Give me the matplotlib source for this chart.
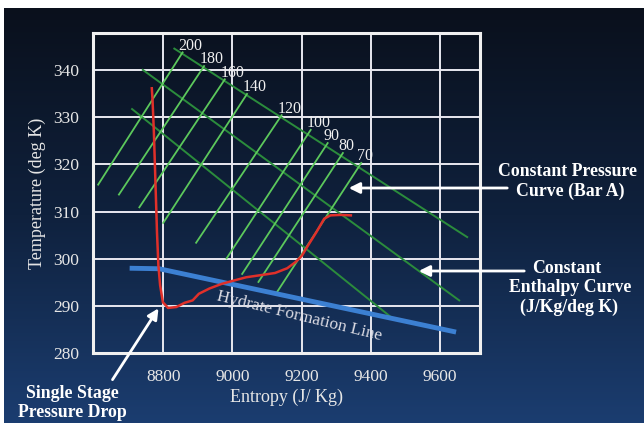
import numpy as np
import matplotlib.pyplot as plt
from matplotlib.colors import LinearSegmentedColormap

# constant pressure lines (bar A): start/end points in entropy, temperature
pressure_labels = ["200", "180", "160", "140", "120", "100", "90", "80", "70"]
pressure_x0 = [8612, 8672, 8731, 8800, 8895, 8983, 9028, 9075, 9129]
pressure_y0 = [315.7, 313.6, 310.9, 307.6, 303.4, 300.1, 296.8, 295.1, 293.0]
pressure_x1 = [8856, 8918, 8978, 9042, 9142, 9226, 9275, 9319, 9372]
pressure_y1 = [343.7, 340.8, 338.0, 334.9, 330.4, 327.3, 324.5, 322.4, 320.3]

# constant enthalpy lines
enthalpy_x0 = [8832, 8741, 8710]
enthalpy_y0 = [344.5, 340.0, 331.7]
enthalpy_x1 = [9678, 9655, 9464]
enthalpy_y1 = [304.6, 291.2, 287.3]

# single stage pressure drop path
drop_x = [8767, 8769, 8773, 8776, 8779, 8782, 8786, 8791, 8799, 8814, 8838,
          8862, 8885, 8903, 8933, 8969, 9004, 9040, 9087, 9123, 9158, 9182,
          9200, 9218, 9242, 9265, 9283, 9313, 9342]
drop_y = [336.1, 333.8, 326.8, 319.7, 312.7, 305.6, 298.6, 294.4, 290.8, 289.6,
          289.8, 290.7, 291.2, 292.6, 293.7, 294.7, 295.4, 296.1, 296.6, 297.0,
          298.0, 299.3, 300.6, 302.8, 305.6, 308.5, 309.2, 309.3, 309.2]

# hydrate formation line
hydrate_x = [8710, 8788, 9639]
hydrate_y = [298.0, 297.9, 284.6]

xticks = [8800, 9000, 9200, 9400, 9600]
yticks = [280, 290, 300, 310, 320, 330, 340]

serif = "Liberation Serif"
W, H = 644, 423

fig = plt.figure(figsize=(6.44, 4.23), dpi=100, facecolor="white")

# dark blue gradient background (white strip at top and left edge)
bg = fig.add_axes([4 / W, 0, 1 - 4 / W, 1 - 8 / H])
cmap = LinearSegmentedColormap.from_list("bg", ["#0a101c", "#0f213d", "#1b3d70"])
grad = np.linspace(0, 1, 256).reshape(-1, 1)
bg.imshow(grad, aspect="auto", cmap=cmap, extent=[0, 1, 0, 1])
bg.axis("off")

ax = fig.add_axes([93.3 / W, 1 - 353.3 / H, (480 - 93.3) / W, (353.3 - 33) / H])
ax.patch.set_alpha(0)
ax.set_xlim(8598, 9715)
ax.set_ylim(280, 347.8)

ax.set_xticks(xticks)
ax.set_yticks(yticks)
ax.grid(True, color="#e8e8f0", lw=1.4)
ax.tick_params(length=0, colors="#e6e6e6", labelsize=12.5)
ax.tick_params(axis="x", pad=11)
ax.tick_params(axis="y", pad=10)
for lab in ax.get_xticklabels() + ax.get_yticklabels():
    lab.set_family(serif)
for s in ax.spines.values():
    s.set_color("#f0f0f0")
    s.set_linewidth(2.2)

for x0, y0, x1, y1 in zip(enthalpy_x0, enthalpy_y0, enthalpy_x1, enthalpy_y1):
    ax.plot([x0, x1], [y0, y1], color="#2b8c3c", lw=1.4)

for lab, x0, y0, x1, y1 in zip(pressure_labels, pressure_x0, pressure_y0,
                               pressure_x1, pressure_y1):
    ax.plot([x0, x1], [y0, y1], color="#5cc85c", lw=1.3)
    ax.annotate(lab, (x1, y1), xytext=(-3, -1), textcoords="offset points",
                color="#f0f0f0", fontsize=11.5, family=serif, va="bottom")

ax.plot(hydrate_x, hydrate_y, color="#3c80d2", lw=3.5)
ax.plot(drop_x, drop_y, color="#e0302a", lw=1.8)

ax.text(9192, 287.9, "Hydrate Formation Line", rotation=-13.7,
        rotation_mode="anchor", ha="center", va="center",
        color="#dcdce4", fontsize=12.5, family=serif)

ax.set_xlabel("Entropy (J/ Kg)", color="#e6e6e6", fontsize=13,
              family=serif, labelpad=3)
ax.set_ylabel("Temperature (deg K)", color="#e6e6e6", fontsize=13,
              family=serif, labelpad=5)


def fx(px):
    return px / W


def fy(py):
    return 1 - py / H


arrow = dict(arrowstyle="-|>", color="white", lw=2, mutation_scale=16)
bold = dict(color="white", fontsize=12.8, family=serif, fontweight="bold",
            ha="center", va="center")

fig.text(fx(567), fy(171), "Constant Pressure", **bold)
fig.text(fx(570), fy(191), "Curve (Bar A)", **bold)
ax.annotate("", xy=(fx(346), fy(188)), xycoords="figure fraction",
            xytext=(fx(510), fy(188)), textcoords="figure fraction",
            arrowprops=arrow)

fig.text(fx(567), fy(268), "Constant", **bold)
fig.text(fx(570), fy(288), "Enthalpy Curve", **bold)
fig.text(fx(569), fy(307), "(J/Kg/deg K)", **bold)
ax.annotate("", xy=(fx(416), fy(271)), xycoords="figure fraction",
            xytext=(fx(527), fy(271)), textcoords="figure fraction",
            arrowprops=arrow)

fig.text(fx(72), fy(393), "Single Stage", **bold)
fig.text(fx(72), fy(412), "Pressure Drop", **bold)
ax.annotate("", xy=(fx(160), fy(306)), xycoords="figure fraction",
            xytext=(fx(111), fy(382)), textcoords="figure fraction",
            arrowprops=arrow)

fig.savefig("out.png", dpi=100, facecolor=fig.get_facecolor())
